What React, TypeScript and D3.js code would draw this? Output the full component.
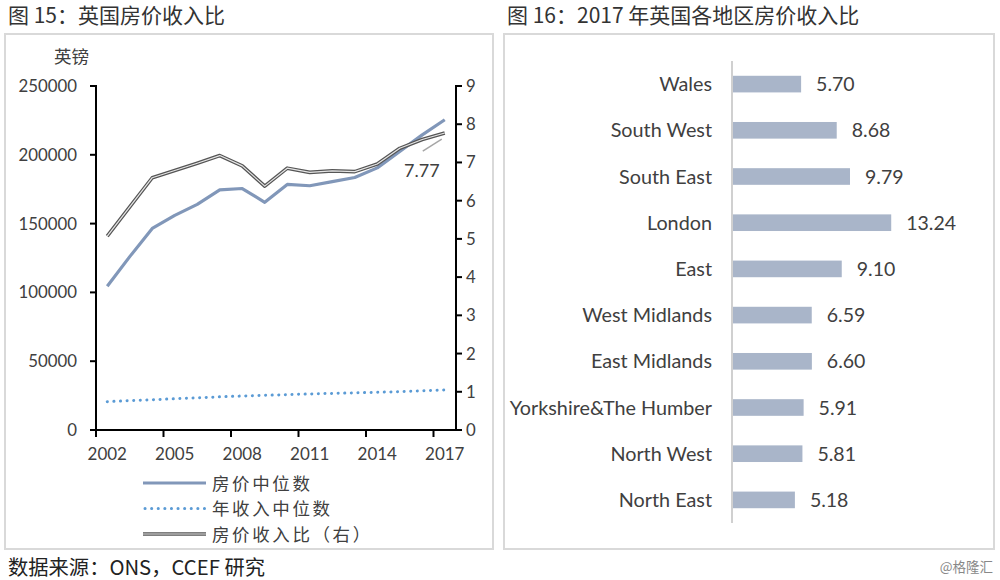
import React from 'react';
import * as d3 from 'd3';

// 图15 data
const years = [2002, 2003, 2004, 2005, 2006, 2007, 2008, 2009, 2010, 2011, 2012, 2013, 2014, 2015, 2016, 2017];
const housePrice = [104500, 126000, 146500, 156000, 164000, 174500, 175500, 165500, 178500, 177500, 180500, 183500, 190500, 202500, 214500, 225500];
const income = [20600, 21300, 22000, 22700, 23400, 24100, 24700, 25200, 25700, 26200, 26600, 27000, 27400, 27900, 28500, 29100];
const ratio = [5.07, 5.84, 6.6, 6.79, 6.98, 7.18, 6.91, 6.38, 6.85, 6.74, 6.78, 6.76, 6.96, 7.37, 7.6, 7.77];
const leftTicks = [0, 50000, 100000, 150000, 200000, 250000];
const rightTicks = [0, 1, 2, 3, 4, 5, 6, 7, 8, 9];
const yearLabels = [2002, 2005, 2008, 2011, 2014, 2017];
const legendLabels = ['房价中位数', '年收入中位数', '房价收入比（右）'];

// 图16 data
const regions = ['Wales', 'South West', 'South East', 'London', 'East', 'West Midlands', 'East Midlands', 'Yorkshire&The Humber', 'North West', 'North East'];
const regionRatio = [5.70, 8.68, 9.79, 13.24, 9.10, 6.59, 6.60, 5.91, 5.81, 5.18];

const latin = "Lato, 'Noto Sans CJK SC', sans-serif";
const cjk = "'Noto Sans CJK SC', sans-serif";
const textColor = '#404040';

export default function App() {
  const x = d3.scaleBand<number>().domain(years).range([96, 456]).padding(0);
  const yL = d3.scaleLinear().domain([0, 250000]).range([430, 86]);
  const yR = d3.scaleLinear().domain([0, 9]).range([430, 86]);
  const cx = (d: number) => (x(d) as number) + x.bandwidth() / 2;

  const priceLine = d3.line<number>().x((_, i) => cx(years[i])).y(d => yL(d))(housePrice) as string;
  const incomeLine = d3.line<number>().x((_, i) => cx(years[i])).y(d => yL(d))(income) as string;
  const ratioLine = d3.line<number>().x((_, i) => cx(years[i])).y(d => yR(d))(ratio) as string;

  const bx = d3.scaleLinear().domain([0, 1]).range([733, 744.95]);
  const by = d3.scaleBand<string>().domain(regions).range([61, 523]).paddingInner(0.64).paddingOuter(0.32);

  const lastX = cx(2017);
  const lastY = yR(ratio[ratio.length - 1]);

  // legend rows
  const ly = d3.scalePoint<string>().domain(legendLabels).range([483, 534]);

  return (
    <svg width={1000} height={580} style={{ position: 'absolute', left: 0, top: 0, background: '#fff' }}>
      {/* titles */}
      <text x={8} y={23} fontFamily={cjk} fontSize={21} fill="#333">图 15：英国房价收入比</text>
      <text x={507} y={23} fontFamily={cjk} fontSize={21} fill="#333">图 16：2017 年英国各地区房价收入比</text>

      {/* panels */}
      <rect x={5} y={34} width={488} height={515} fill="none" stroke="#d9d9d9" strokeWidth={2} />
      <rect x={504} y={34} width={490} height={515} fill="none" stroke="#d9d9d9" strokeWidth={2} />

      {/* left chart */}
      <text x={54} y={63} fontFamily={cjk} fontSize={17.5} fill={textColor}>英镑</text>
      {leftTicks.map(t => (
        <g key={'l' + t}>
          <line x1={90} x2={96} y1={yL(t)} y2={yL(t)} stroke="#000" strokeWidth={2} />
          <text x={77} y={yL(t) + 6} textAnchor="end" fontFamily={latin} fontSize={16.8} fill={textColor}>{t}</text>
        </g>
      ))}
      {rightTicks.map(t => (
        <g key={'r' + t}>
          <line x1={456} x2={462} y1={yR(t)} y2={yR(t)} stroke="#000" strokeWidth={2} />
          <text x={466} y={yR(t) + 6} fontFamily={latin} fontSize={16.8} fill={textColor}>{t}</text>
        </g>
      ))}
      {yearLabels.map(yr => (
        <g key={'x' + yr}>
          <line x1={x(yr) as number} x2={x(yr) as number} y1={430} y2={437} stroke="#000" strokeWidth={2} />
          <text x={cx(yr)} y={460} textAnchor="middle" fontFamily={latin} fontSize={17} fill={textColor}>{yr}</text>
        </g>
      ))}
      <line x1={96} x2={96} y1={85} y2={431} stroke="#000" strokeWidth={2} />
      <line x1={456} x2={456} y1={85} y2={431} stroke="#000" strokeWidth={2} />
      <line x1={90} x2={462} y1={430} y2={430} stroke="#000" strokeWidth={2} />

      <path d={priceLine} fill="none" stroke="#8197b9" strokeWidth={3.2} strokeLinejoin="round" />
      <path d={incomeLine} fill="none" stroke="#5b9bd5" strokeWidth={3} strokeDasharray="0.1 6.5" strokeLinecap="round" />
      <path d={ratioLine} fill="none" stroke="#555" strokeWidth={3.6} strokeLinejoin="round" />
      <path d={ratioLine} fill="none" stroke="#e6e6e6" strokeWidth={1.2} strokeLinejoin="round" />

      <line x1={lastX - 22} x2={lastX - 3} y1={lastY + 18} y2={lastY + 6} stroke="#a6a6a6" strokeWidth={1.5} />
      <text x={404} y={177} fontFamily={latin} fontSize={18} fill={textColor}>7.77</text>

      {/* legend */}
      {legendLabels.map((lab, i) => {
        const yy = ly(lab) as number;
        return (
          <g key={lab}>
            {i === 0 && <line x1={143} x2={206} y1={yy} y2={yy} stroke="#8197b9" strokeWidth={3.2} />}
            {i === 1 && <line x1={145} x2={206} y1={yy} y2={yy} stroke="#5b9bd5" strokeWidth={3} strokeDasharray="0.1 6.5" strokeLinecap="round" />}
            {i === 2 && <>
              <line x1={143} x2={206} y1={yy} y2={yy} stroke="#555" strokeWidth={3.6} />
              <line x1={143} x2={206} y1={yy} y2={yy} stroke="#e6e6e6" strokeWidth={1.2} />
            </>}
            <text x={212} y={yy + 6.5} fontFamily={cjk} fontSize={17.5} letterSpacing={2.6} fill={textColor}>{lab}</text>
          </g>
        );
      })}

      {/* right chart */}
      {regions.map((r, i) => (
        <g key={r}>
          <rect x={bx(0)} y={by(r)} width={bx(regionRatio[i]) - bx(0)} height={by.bandwidth()} fill="#a9b5c9" />
          <text x={712} y={(by(r) as number) + by.bandwidth() / 2 + 7} textAnchor="end" fontFamily={latin} fontSize={19.8} fill={textColor}>{r}</text>
          <text x={bx(regionRatio[i]) + 15} y={(by(r) as number) + by.bandwidth() / 2 + 7} fontFamily={latin} fontSize={19.5} fill={textColor}>{regionRatio[i].toFixed(2)}</text>
        </g>
      ))}
      <line x1={732} x2={732} y1={61} y2={523} stroke="#d0d0d0" strokeWidth={2} />

      {/* footer */}
      <text x={8} y={575} fontFamily={cjk} fontSize={20.3} fill="#222">数据来源：ONS，CCEF 研究</text>
      <text x={993} y={572} textAnchor="end" fontFamily={cjk} fontSize={13.5} fill="#888">@格隆汇</text>
    </svg>
  );
}
